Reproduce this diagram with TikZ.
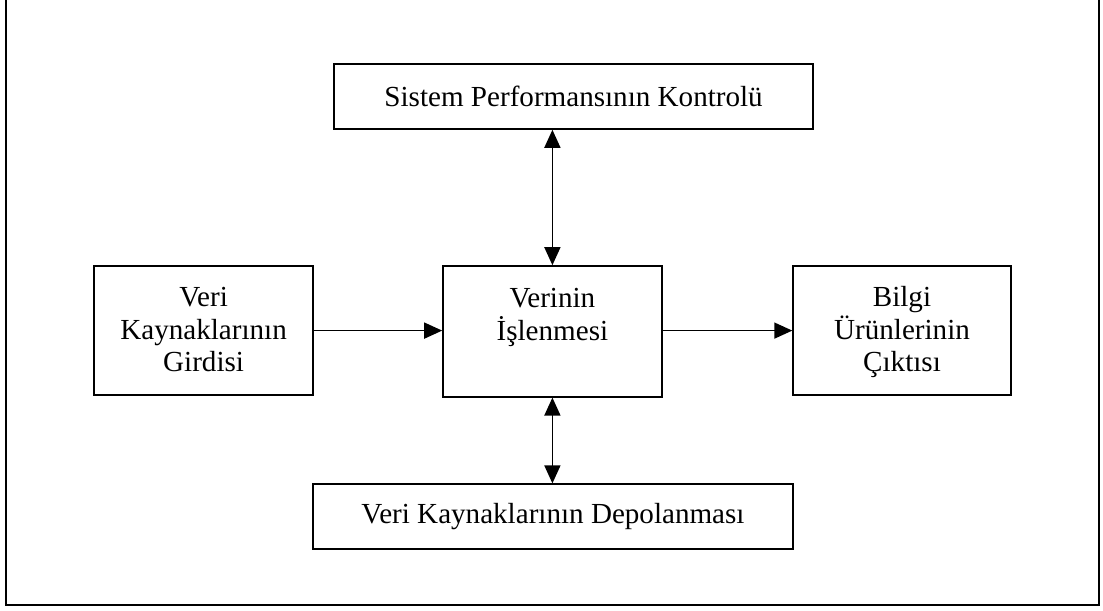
\documentclass[tikz,border=0pt]{standalone}
\usepackage{fontspec}
\setmainfont{Liberation Serif}
\usetikzlibrary{arrows.meta}

\tikzset{
  blok/.style={draw, line width=1pt, align=center, inner sep=0pt,
    font=\fontsize{20.7}{23}\selectfont},
  ok/.style={-{Triangle[length=0.45cm,width=0.4cm]}, line width=1.1pt},
  ciftok/.style={{Triangle[length=0.45cm,width=0.4cm]}-{Triangle[length=0.45cm,width=0.4cm]}, line width=1.1pt}
}

\begin{document}
\begin{tikzpicture}
  \useasboundingbox (0,0) rectangle (27.575,15.275);
  % frame
  \draw[line width=1pt] (0.15,15.275) -- (0.15,0.15) -- (27.475,0.15) -- (27.475,15.275);

  \node[blok, minimum width=11.975cm, minimum height=1.625cm] (kontrol) at (14.34,12.86) {Sistem Performansının Kontrolü};
  \node[blok, minimum width=5.475cm, minimum height=3.225cm] (girdi) at (5.09,7.01) {\vphantom{Ü}Veri\\Kaynaklarının\\Girdisi\vphantom{Ç}};
  \node[blok, minimum width=5.475cm, minimum height=3.275cm] (isleme) at (13.81,6.99) {\vphantom{Ü}Verinin\\İşlenmesi\\\vphantom{Ç}};
  \node[blok, minimum width=5.45cm, minimum height=3.225cm] (cikti) at (22.55,7.01) {\vphantom{Ü}Bilgi\\Ürünlerinin\\Çıktısı};
  \node[blok, minimum width=12cm, minimum height=1.625cm] (depo) at (13.825,2.36) {Veri Kaynaklarının Depolanması};

  \draw[ciftok] (isleme.north) -- (isleme.north |- kontrol.south);
  \draw[ciftok] (isleme.south) -- (isleme.south |- depo.north);
  \draw[ok] (girdi.east) -- (girdi.east -| isleme.west);
  \draw[ok] (cikti.west -| isleme.east) -- (cikti.west);
\end{tikzpicture}
\end{document}
